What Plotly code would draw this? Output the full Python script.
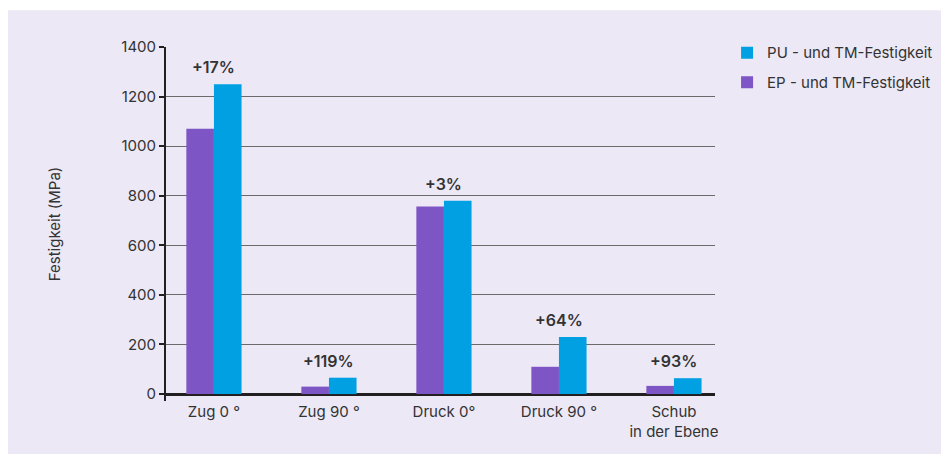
import plotly.graph_objects as go

# Data
categories = ["Zug 0 °", "Zug 90 °", "Druck 0°", "Druck 90 °", "Schub<br>in der Ebene"]
ep_values = [1070, 30, 757, 110, 33]
pu_values = [1250, 66, 780, 230, 64]
gain_labels = ["+17%", "+119%", "+3%", "+64%", "+93%"]

EP_COLOR = "#7E55C4"
PU_COLOR = "#00A0E3"
BG_COLOR = "#ECE8F6"
TEXT_COLOR = "#333333"
FONT = "Inter, Roboto, sans-serif"

fig = go.Figure()
fig.add_trace(go.Bar(x=categories, y=ep_values, name="EP - und TM-Festigkeit",
                     legendgroup="ep", legendrank=2,
                     marker=dict(color=EP_COLOR, line=dict(width=0))))
fig.add_trace(go.Bar(x=categories, y=pu_values, name="PU - und TM-Festigkeit",
                     legendgroup="pu", legendrank=1,
                     marker=dict(color=PU_COLOR, line=dict(width=0))))

# Percentage gain above each group
for cat, ep, pu, lab in zip(categories, ep_values, pu_values, gain_labels):
    fig.add_annotation(x=cat, y=max(ep, pu), text=lab, showarrow=False,
                       yanchor="bottom", yshift=5,
                       font=dict(family=FONT, size=16, color=TEXT_COLOR, weight=600))

# Lavender panel behind the whole chart
fig.add_shape(type="rect", xref="paper", yref="paper",
              x0=-0.2878, x1=1.42, y0=-0.16, y1=1.1036,
              fillcolor=BG_COLOR, line=dict(width=0), layer="below")

fig.update_layout(
    width=941, height=454,
    margin=dict(l=166, r=226, t=46.7, b=53, autoexpand=False),
    paper_bgcolor="white", plot_bgcolor="rgba(0,0,0,0)",
    barmode="group", bargap=0.52, bargroupgap=0,
    font=dict(family=FONT, size=15, color=TEXT_COLOR),
    legend=dict(x=1.022, y=1.03, xanchor="left", yanchor="top",
                traceorder="grouped", bgcolor="rgba(0,0,0,0)",
                font=dict(size=15, color=TEXT_COLOR), tracegroupgap=7),
    xaxis=dict(type="category", range=[-0.417, 4.357], showgrid=False,
               showline=False, ticks="", tickfont=dict(size=15)),
    yaxis=dict(range=[-28, 1400], tickvals=[0, 200, 400, 600, 800, 1000, 1200, 1400],
               showgrid=True, gridcolor="#6b6b6b", gridwidth=1.3,
               zeroline=True, zerolinecolor="#231f20", zerolinewidth=2.5,
               showline=True, linecolor="#231f20", linewidth=2,
               ticks="outside", ticklen=5, tickcolor="#231f20", tickwidth=1.5,
               tickfont=dict(size=15),
               title=dict(text="Festigkeit (MPa)", font=dict(size=15), standoff=57)),
)

fig.write_html("out.html")
